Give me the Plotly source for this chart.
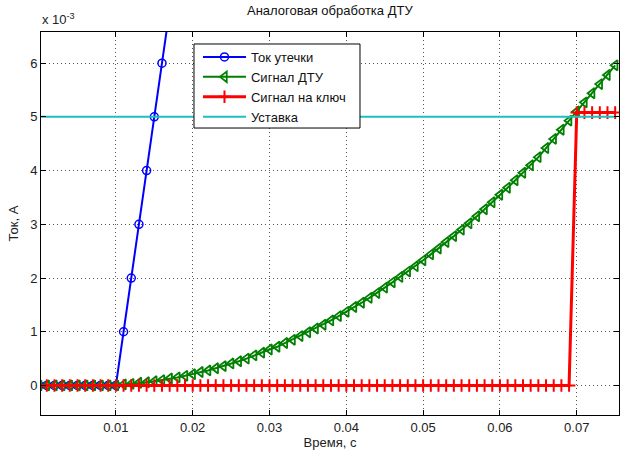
import plotly.graph_objects as go

# time, s
time_s = [0.000, 0.001, 0.002, 0.003, 0.004, 0.005, 0.006, 0.007, 0.008, 0.009,
          0.010, 0.011, 0.012, 0.013, 0.014, 0.015, 0.016, 0.017, 0.018, 0.019,
          0.020, 0.021, 0.022, 0.023, 0.024, 0.025, 0.026, 0.027, 0.028, 0.029,
          0.030, 0.031, 0.032, 0.033, 0.034, 0.035, 0.036, 0.037, 0.038, 0.039,
          0.040, 0.041, 0.042, 0.043, 0.044, 0.045, 0.046, 0.047, 0.048, 0.049,
          0.050, 0.051, 0.052, 0.053, 0.054, 0.055, 0.056, 0.057, 0.058, 0.059,
          0.060, 0.061, 0.062, 0.063, 0.064, 0.065, 0.066, 0.067, 0.068, 0.069,
          0.070, 0.071, 0.072, 0.073, 0.074, 0.075]

# leakage current (x1e-3 A), shown until it leaves the plot
time_leak_s = [0.000, 0.001, 0.002, 0.003, 0.004, 0.005, 0.006, 0.007, 0.008, 0.009,
               0.010, 0.011, 0.012, 0.013, 0.014, 0.015, 0.016, 0.017, 0.018, 0.019, 0.020]
leak_mA = [0, 0, 0, 0, 0, 0, 0, 0, 0, 0,
           0, 1, 2, 3, 4, 5, 6, 7, 8, 9, 10]

# DTU signal (x1e-3 A)
dtu_mA = [0, 0, 0, 0, 0, 0, 0, 0, 0, 0,
          0, 0.02, 0.03, 0.05, 0.06, 0.08, 0.10, 0.13, 0.15, 0.18,
          0.21, 0.25, 0.28, 0.32, 0.36, 0.41, 0.45, 0.50, 0.56, 0.61,
          0.67, 0.72, 0.79, 0.85, 0.92, 0.99, 1.06, 1.13, 1.21, 1.29,
          1.37, 1.46, 1.54, 1.63, 1.72, 1.82, 1.92, 2.02, 2.12, 2.22,
          2.33, 2.44, 2.55, 2.67, 2.78, 2.90, 3.02, 3.15, 3.28, 3.41,
          3.55, 3.68, 3.82, 3.96, 4.10, 4.25, 4.42, 4.59, 4.76, 4.93,
          5.10, 5.27, 5.44, 5.61, 5.78, 5.96]

# key signal (x1e-3 A)
key_mA = [0] * 70 + [5.08, 5.08, 5.08, 5.08, 5.08, 5.08]

# setpoint (x1e-3 A)
setpoint_mA = [5] * 76

x_ticks = [0.01, 0.02, 0.03, 0.04, 0.05, 0.06, 0.07]
x_tick_text = ["0.01", "0.02", "0.03", "0.04", "0.05", "0.06", "0.07"]
y_ticks = [0, 1, 2, 3, 4, 5, 6]
y_tick_text = ["0", "1", "2", "3", "4", "5", "6"]

FONT = "Liberation Sans, Arial, Helvetica, sans-serif"

fig = go.Figure()
fig.add_trace(go.Scatter(
    x=time_leak_s, y=leak_mA, name="Ток утечки", mode="lines+markers",
    line=dict(color="#0000ff", width=2),
    marker=dict(symbol="circle-open", size=8, color="#0000ff", line=dict(width=1.5, color="#0000ff"))))
fig.add_trace(go.Scatter(
    x=time_s, y=dtu_mA, name="Сигнал ДТУ", mode="lines+markers",
    line=dict(color="#008000", width=2),
    marker=dict(symbol="triangle-left-open", size=9, color="#008000", line=dict(width=1.8, color="#008000"))))
fig.add_trace(go.Scatter(
    x=time_s, y=key_mA, name="Сигнал на ключ", mode="lines+markers",
    line=dict(color="#ff0000", width=3),
    marker=dict(symbol="cross-thin-open", size=9, color="#ff0000", line=dict(width=2, color="#ff0000"))))
fig.add_trace(go.Scatter(
    x=time_s, y=setpoint_mA, name="Уставка", mode="lines",
    line=dict(color="#1fbfbf", width=2)))

axis_common = dict(
    showline=True, linecolor="black", linewidth=1, mirror="ticks",
    ticks="inside", ticklen=5, tickcolor="black", tickwidth=1,
    showgrid=True, gridcolor="#555555", gridwidth=1, griddash="1px,3px",
    zeroline=False, automargin=False,
    tickfont=dict(family=FONT, size=13, color="#222222"),
)

fig.update_layout(
    width=620, height=454,
    margin=dict(l=41, r=1, t=32, b=39),
    paper_bgcolor="white", plot_bgcolor="white",
    font=dict(family=FONT, size=13, color="#222222"),
    title=dict(text="Аналоговая обработка ДТУ", x=0.532, xanchor="center",
               y=1 - 10 / 454, yanchor="middle", yref="container",
               font=dict(family=FONT, size=13, color="#111111")),
    xaxis=dict(range=[0.00025, 0.0755], tickvals=x_ticks, ticktext=x_tick_text,
               title=dict(text="Время, с", standoff=4, font=dict(family=FONT, size=13)),
               **axis_common),
    yaxis=dict(range=[-0.55, 6.58], tickvals=y_ticks, ticktext=y_tick_text,
               title=dict(text="Ток, А", standoff=8, font=dict(family=FONT, size=13)),
               **axis_common),
    legend=dict(x=0.2716, y=0.9739, xanchor="left", yanchor="top",
                bgcolor="rgba(0,0,0,0)", borderwidth=0,
                font=dict(family=FONT, size=13, color="#111111"),
                tracegroupgap=0, itemwidth=43),
    showlegend=True,
    shapes=[dict(type="rect", xref="paper", yref="paper",
                 x0=0.2647, x1=0.5519, y0=0.7493, y1=0.9687,
                 fillcolor="white", line=dict(color="black", width=1), layer="above")],
    annotations=[dict(text="x 10<sup>-3</sup>", xref="paper", yref="paper",
                      x=0, y=1, xanchor="left", yanchor="bottom", yshift=3, xshift=-1,
                      showarrow=False, font=dict(family=FONT, size=13, color="#222222"))],
)

fig.write_html("out.html", config={"displayModeBar": False},
               post_script="document.body.style.margin='0px';")
